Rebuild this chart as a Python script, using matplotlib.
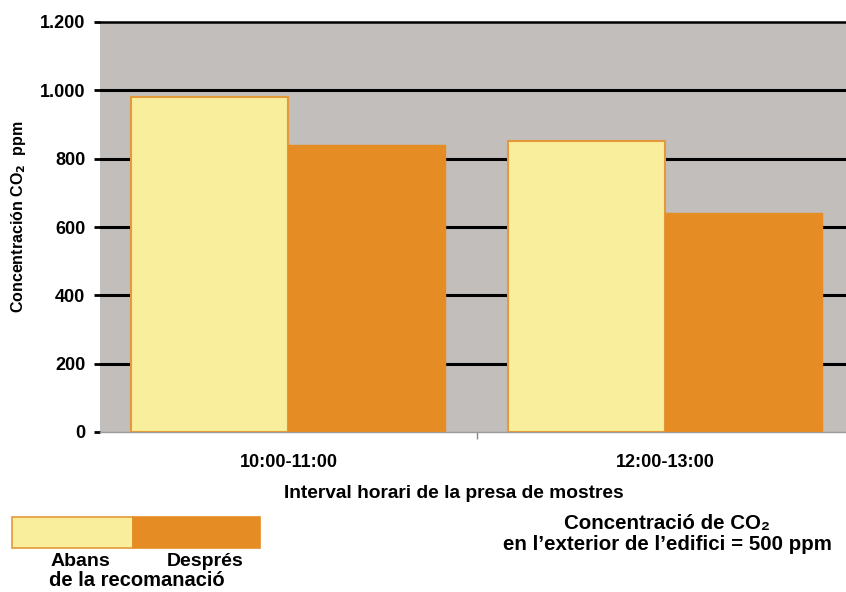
import matplotlib
matplotlib.use("Agg")
import matplotlib.pyplot as plt
from matplotlib.patches import Rectangle
from matplotlib.ticker import FuncFormatter, FixedLocator
import numpy as np

categories = ["10:00-11:00", "12:00-13:00"]
abans = [980, 852]
despres = [840, 640]
series_labels = ["Abans", "Després"]
yticks = [0, 200, 400, 600, 800, 1000, 1200]

YELLOW = "#F8EE9C"
ORANGE = "#E68C25"
EDGE = "#E49A3A"
BG = "#C1BEBB"

plt.rcParams['font.family'] = ['Liberation Sans', 'DejaVu Sans']
plt.rcParams['font.weight'] = 'bold'

fig = plt.figure(figsize=(8.46, 5.92), dpi=100)
ax = fig.add_axes([100/846, 1-432/592, 753.5/846, 410/592])
ax.set_facecolor(BG)

x = np.arange(len(categories))
w = 0.417
ax.bar(x - w/2, abans, width=w, color=YELLOW, edgecolor=EDGE, linewidth=1.5, zorder=3)
ax.bar(x + w/2, despres, width=w, color=ORANGE, edgecolor=ORANGE, linewidth=1.0, zorder=3)

ax.set_xlim(-0.5, 1.5)
ax.set_ylim(0, 1200)
ax.set_yticks(yticks)
ax.yaxis.set_major_formatter(FuncFormatter(lambda v, p: f"{int(v):,}".replace(",", ".")))
for t in yticks[1:-1]:
    ax.axhline(t, color="black", linewidth=2.2, zorder=1)

ax.set_xticks(x)
ax.set_xticklabels(categories)
ax.xaxis.set_minor_locator(FixedLocator([0.5]))
ax.tick_params(axis='x', which='major', length=0, pad=16, labelsize=13)
ax.tick_params(axis='x', which='minor', length=5, width=1, color="#888888", direction='out')
ax.tick_params(axis='y', length=4, width=2, color="black", pad=6.5, labelsize=13)
for lab in ax.get_xticklabels() + ax.get_yticklabels():
    lab.set_fontweight('bold')

for s in ['left', 'right']:
    ax.spines[s].set_visible(False)
ax.spines['top'].set_color('black')
ax.spines['top'].set_linewidth(1.8)
ax.spines['bottom'].set_color('#9a9a9a')
ax.spines['bottom'].set_linewidth(1.0)

fig.text(18/846, 1-217/592, "Concentración CO$_\\mathbf{2}$  ppm", rotation=90,
         ha='center', va='center', fontsize=11.5, fontweight='bold')
fig.text(454/846, 1-494/592, "Interval horari de la presa de mostres",
         ha='center', va='center', fontsize=13.8, fontweight='bold')

# legend
fig.patches.append(Rectangle((12/846, 1-548/592), 121/846, 31/592, transform=fig.transFigure,
                             facecolor=YELLOW, edgecolor=EDGE, linewidth=1.2))
fig.patches.append(Rectangle((133/846, 1-548/592), 127/846, 31/592, transform=fig.transFigure,
                             facecolor=ORANGE, edgecolor=ORANGE, linewidth=1.2))
fig.text(80/846, 1-562/592, series_labels[0], ha='center', va='center', fontsize=14, fontweight='bold')
fig.text(205/846, 1-562/592, series_labels[1], ha='center', va='center', fontsize=14, fontweight='bold')
fig.text(137/846, 1-581/592, "de la recomanació", ha='center', va='center', fontsize=14.5, fontweight='bold')

fig.text(667/846, 1-524/592, "Concentració de CO\u2082", ha='center', va='center',
         fontsize=14.8, fontweight='bold')
fig.text(667/846, 1-544/592, "en l\u2019exterior de l\u2019edifici = 500 ppm", ha='center', va='center',
         fontsize=14.8, fontweight='bold')

fig.savefig("out.png", dpi=100)
